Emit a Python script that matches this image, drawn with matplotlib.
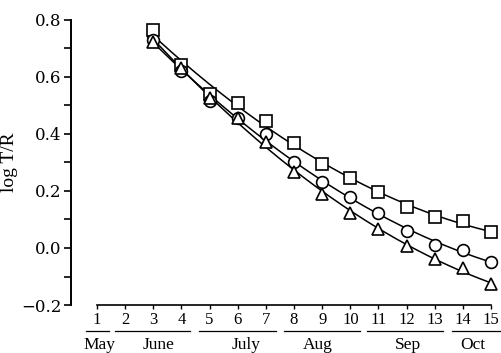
import numpy as np
import matplotlib
matplotlib.use("Agg")
import matplotlib.pyplot as plt
import matplotlib.transforms as mtransforms

plt.rcParams['font.family'] = ['Liberation Serif', 'DejaVu Serif']

x = [3, 4, 5, 6, 7, 8, 9, 10, 11, 12, 13, 14, 15]
squares = [0.765, 0.642, 0.540, 0.510, 0.445, 0.370, 0.295, 0.245, 0.198, 0.145, 0.110, 0.093, 0.056]
circles = [0.730, 0.620, 0.517, 0.455, 0.400, 0.300, 0.233, 0.180, 0.123, 0.060, 0.012, -0.007, -0.048]
triangles = [0.724, 0.632, 0.526, 0.455, 0.372, 0.268, 0.188, 0.123, 0.068, 0.007, -0.040, -0.070, -0.126]

xticks = list(range(1, 16))
yticks = [0.8, 0.6, 0.4, 0.2, 0.0, -0.2]
ytick_labels = ['0.8', '0.6', '0.4', '0.2', '0.0', '\u22120.2']
months = ['May', 'June', 'July', 'Aug', 'Sep', 'Oct']
month_centers = [1.1, 3.17, 6.3, 8.84, 12.05, 14.36]
month_spans = [(0.61, 1.43), (1.64, 4.3), (4.62, 7.36), (7.65, 10.35), (10.6, 13.3), (13.6, 15.4)]

fig = plt.figure(figsize=(5.02, 3.53), dpi=100)
ax = fig.add_axes([71/502, 48/353, 431/502, 285/353])
ax.set_xlim(0.076, 15.39)
ax.set_ylim(-0.2, 0.8)

xf = np.linspace(2.8, 15, 200)
for ys, mk, ms in [(squares, 's', 8.5), (circles, 'o', 8.5), (triangles, '^', 8)]:
    p = np.polyfit(x, ys, 2)
    ax.plot(xf, np.polyval(p, xf), color='black', lw=1.1, clip_on=False)
    ax.plot(x, ys, linestyle='none', marker=mk, markersize=ms, markerfacecolor='white',
            markeredgecolor='black', markeredgewidth=1.2, clip_on=False, zorder=3)

for s in ['top', 'right']:
    ax.spines[s].set_visible(False)
ax.spines['left'].set_linewidth(1.4)
ax.spines['bottom'].set_linewidth(1.2)
ax.spines['bottom'].set_bounds(1, 15)

ax.set_yticks(yticks)
ax.set_yticklabels(ytick_labels, fontsize=12, family=['DejaVu Serif'])
ax.set_yticks(np.arange(-0.1, 0.8, 0.2), minor=True)
ax.tick_params(axis='y', which='both', direction='out', length=5, width=1.2, pad=2)

ax.set_xticks(xticks)
ax.set_xticklabels([str(v) for v in xticks], fontsize=12)
ax.tick_params(axis='x', direction='out', length=3, width=1.0, pad=2)

ax.set_ylabel('log T/R', fontsize=14, labelpad=2)

trans = mtransforms.blended_transform_factory(ax.transData, fig.transFigure)
for (a, b) in month_spans:
    ax.plot([a, b], [1 - 331/353, 1 - 331/353], color='black', lw=0.9,
            transform=trans, clip_on=False)
for name, c in zip(months, month_centers):
    ax.text(c, 1 - 345/353, name, transform=trans, ha='center', va='center', fontsize=12.5)

fig.savefig('out.png', dpi=100)
